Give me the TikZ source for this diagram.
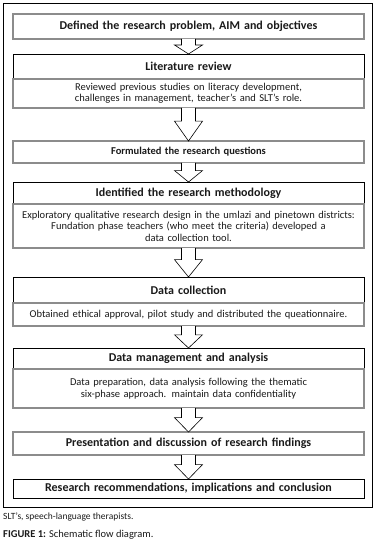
\documentclass[tikz,border=0pt]{standalone}
\usepackage{fontspec}
\setmainfont{Carlito}
\usepackage{tikz}
\usetikzlibrary{positioning,calc}
\definecolor{framegrey}{HTML}{8C8C8C}
\definecolor{inkdark}{HTML}{1A1A1A}
\tikzset{
  greybox/.style  = {draw=framegrey, line width=1.3pt, fill=white, align=center, outer sep=0pt,
                     text width=351pt, inner xsep=0pt, inner ysep=0pt, text=inkdark},
  blackbox/.style = {draw=black, line width=0.9pt, fill=white, align=center, outer sep=0pt,
                     text width=351pt, inner xsep=0pt, inner ysep=0pt, text=inkdark},
  headfont/.style = {font=\fontsize{12}{13}\selectfont\bfseries},
  bodyfont/.style = {font=\fontsize{10.5}{11.5}\selectfont},
  hollow/.style   = {draw=black, line width=0.6pt, fill=white, line join=miter},
}
\newcommand{\blockarrow}[2]{%
  \draw[hollow] ($(#1.south)+(-7,0)$) -- ($(#1.south)!0.4!(#2.north)+(-7,0)$)
    -- ($(#1.south)!0.4!(#2.north)+(-14,0)$) -- (#2.north)
    -- ($(#1.south)!0.4!(#2.north)+(14,0)$) -- ($(#1.south)!0.4!(#2.north)+(7,0)$)
    -- ($(#1.south)+(7,0)$);}
\begin{document}
\begin{tikzpicture}[x=1pt,y=1pt]
  \useasboundingbox (0,0) rectangle (376,-556);
  \draw[line width=1pt] (3,-4) rectangle (372,-507);
  % steps
  \node[greybox,headfont,minimum height=25pt] (b1) at (188.5,-26.5)
    {Defined the research problem, AIM and objectives};
  \node[blackbox,headfont,minimum height=25pt,below=15pt of b1] (t2) {Literature review};
  \node[greybox,bodyfont,minimum height=29pt,below=0pt of t2] (d2)
    {Reviewed previous studies on literacy development,\\challenges in management, teacher's and SLT's role.};
  \node[greybox,font=\fontsize{10.5}{12}\selectfont\bfseries,minimum height=22pt,below=33pt of d2] (b3)
    {Formulated the research questions};
  \node[blackbox,headfont,minimum height=22pt,below=19pt of b3] (t4) {Identified the research methodology};
  \node[greybox,bodyfont,minimum height=44pt,below=0pt of t4] (d4)
    {Exploratory qualitative research design in the umlazi and pinetown districts:\\Fundation phase teachers (who meet the criteria) developed a\\data collection tool.};
  \node[blackbox,headfont,minimum height=26pt,below=29pt of d4] (t5) {Data collection};
  \node[greybox,bodyfont,minimum height=23pt,below=0pt of t5] (d5)
    {Obtained ethical approval, pilot study and distributed the queationnaire.};
  \node[blackbox,headfont,minimum height=21pt,below=22pt of d5] (t6) {Data management and analysis};
  \node[greybox,bodyfont,minimum height=39pt,below=0pt of t6] (d6)
    {Data preparation, data analysis following the thematic\\six-phase approach. maintain data confidentiality};
  \node[greybox,headfont,minimum height=23pt,below=24pt of d6] (b7)
    {Presentation and discussion of research findings};
  \node[blackbox,headfont,minimum height=19pt,below=24pt of b7] (b8)
    {Research recommendations, implications and conclusion};
  % arrows
  \foreach \from/\to in {b1/t2,d2/b3,b3/t4,d4/t5,d5/t6,d6/b7,b7/b8}
    \blockarrow{\from}{\to};
  % caption
  \node[anchor=west,inner sep=0pt,font=\fontsize{9.5}{11}\selectfont,text=inkdark] (note) at (3,-517)
    {SLT's, speech-language therapists.};
  \node[anchor=west,inner sep=0pt,font=\fontsize{10.5}{12}\selectfont,text=inkdark] (cap) at (3,-535)
    {\textbf{FIGURE 1:} Schematic flow diagram.};
\end{tikzpicture}
\end{document}
